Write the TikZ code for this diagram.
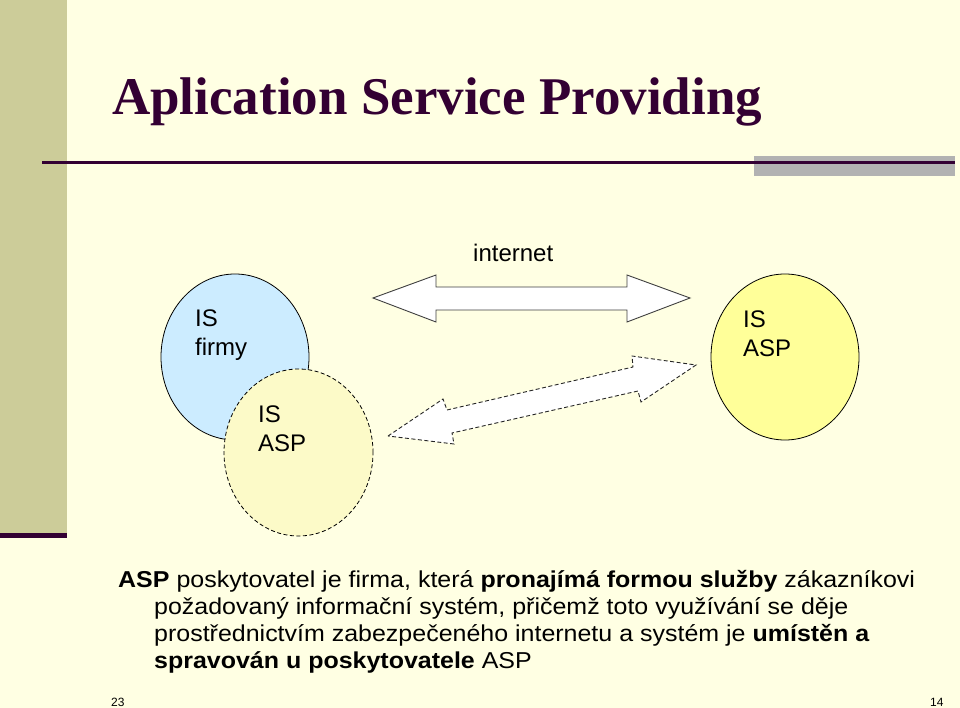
\documentclass[tikz,border=0pt]{standalone}
\usepackage{fontspec}
\setmainfont{Liberation Sans}
\newfontfamily\titlefont{Liberation Serif}
\usetikzlibrary{shapes.geometric}
\definecolor{bgyellow}{HTML}{FFFFE3}
\definecolor{strip}{HTML}{CCCC99}
\definecolor{darkpurple}{HTML}{330033}
\definecolor{barGray}{HTML}{B2B2B2}
\definecolor{firmblue}{HTML}{CCECFF}
\definecolor{aspyellow}{HTML}{FFFF99}
\definecolor{asplight}{HTML}{FCFAC8}
\newcommand{\wideline}[1]{\scalebox{1.086}[1]{#1}}
\begin{document}
\begin{tikzpicture}[x=1pt,y=-1pt,
  blob/.style={ellipse,inner sep=0pt,minimum width=#1},
  circtext/.style={anchor=north west,inner sep=0pt,align=left,font=\fontsize{24}{29}\selectfont},
  bodytext/.style={anchor=base west,inner sep=0pt,font=\fontsize{23}{27}\selectfont},
  pagenum/.style={anchor=base west,inner sep=0pt,font=\fontsize{12}{14}\selectfont},
  blockarrow/.style={draw=black!75,line width=0.9pt,fill=white,line join=miter}]
\useasboundingbox (0,0) rectangle (960,708);
\fill[bgyellow] (0,0) rectangle (960,708);
% left strip
\fill[strip] (0,0) rectangle (67,533);
\fill[darkpurple] (0,533) rectangle (67,538);
% title
\node[anchor=base west,inner sep=0pt,text=darkpurple,font=\titlefont\bfseries\fontsize{53}{60}\selectfont] (title) at (112,115) {Aplication Service Providing};
% rule and gray bar
\fill[barGray] (754,156) rectangle (955,176);
\draw[darkpurple,line width=3pt] (42,163) -- (955,163);
% ellipses
\node[blob=148pt,minimum height=166pt,draw=black,line width=0.8pt,fill=firmblue] (firm) at (235,357) {};
\node[blob=149pt,minimum height=167pt,draw=black,line width=0.8pt,dashed,dash pattern=on 4pt off 2.5pt,fill=asplight] (asplocal) at (298.5,452.5) {};
\node[blob=148pt,minimum height=166pt,draw=black,line width=0.8pt,fill=aspyellow] (aspremote) at (785,357) {};
\node[circtext] (firmtxt) at (195,310) {IS\\firmy};
\node[circtext] (asplocaltxt) at (258,406) {IS\\ASP};
\node[circtext] (aspremotetxt) at (743,311) {IS\\ASP};
% internet label
\node[anchor=base west,inner sep=0pt,font=\fontsize{24}{29}\selectfont] (inet) at (473,262) {internet};
% top double arrow
\draw[blockarrow] (373,298) -- (436,275) -- (436,287) -- (627,287) -- (627,275) -- (690,298) -- (627,322) -- (627,310) -- (436,310) -- (436,322) -- cycle;
% dashed double arrow
\draw[blockarrow,draw=black!85,dashed,dash pattern=on 4pt off 2.5pt] (388,436) -- (443,399) -- (447,410) -- (633,367) -- (632,356) -- (696,365) -- (641,402) -- (638,391) -- (452,433) -- (454,444) -- cycle;
% body text
\node[bodytext] (l1) at (118,587) {\wideline{\textbf{ASP} poskytovatel je firma, která \textbf{pronajímá formou služby} zákazníkovi}};
\node[bodytext] (l2) at (154,614) {\wideline{požadovaný informační systém, přičemž toto využívání se děje}};
\node[bodytext] (l3) at (154,641) {\wideline{prostřednictvím zabezpečeného internetu a systém je \textbf{umístěn a}}};
\node[bodytext] (l4) at (154,668) {\wideline{\textbf{spravován u poskytovatele} ASP}};
% page numbers
\node[pagenum] (p23) at (111,706) {23};
\node[pagenum] (p14) at (930,706) {14};
\end{tikzpicture}
\end{document}
